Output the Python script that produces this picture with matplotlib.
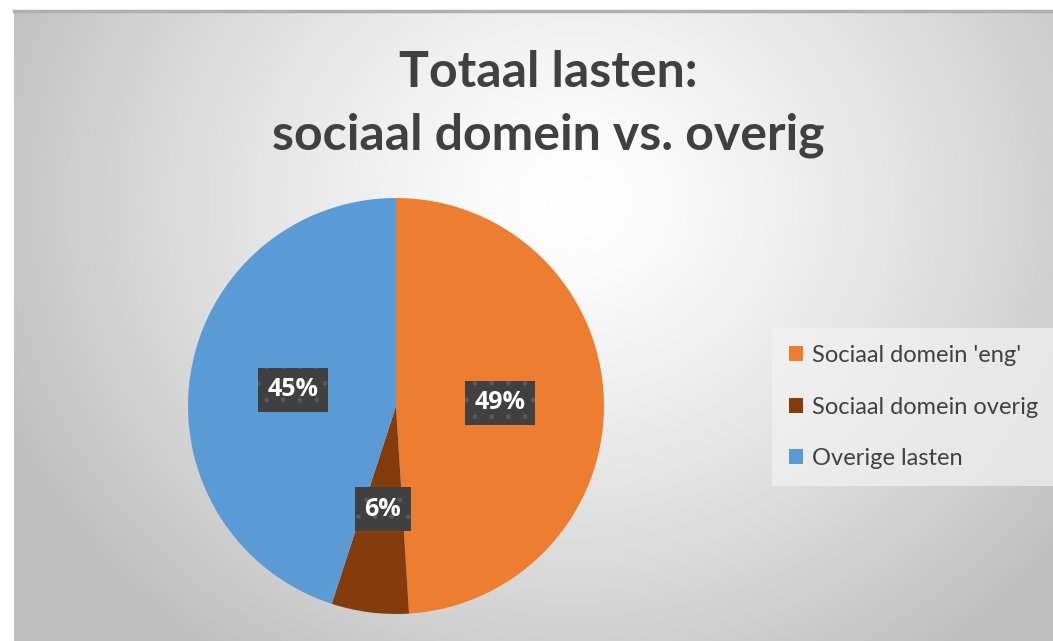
import numpy as np
import matplotlib.pyplot as plt
from matplotlib.patches import Patch

# data
labels = ["Sociaal domein 'eng'", "Sociaal domein overig", "Overige lasten"]
shares = [49, 6, 45]
colors = ['#ed7d31', '#843c0c', '#5b9bd5']

W, H = 1053, 641
fig = plt.figure(figsize=(W / 100, H / 100), dpi=100)
fig.patch.set_facecolor('white')

# radial gradient background of the chart area
bg = fig.add_axes([14 / W, 0, 1 - 14 / W, (H - 11) / H], zorder=-5)
yy, xx = np.mgrid[0:H - 11, 0:W - 14]
d = np.hypot((xx - 560) / 1.0, (yy - 190) / 0.9)
g = 1.0 - 0.25 * np.clip(d / 620, 0, 1) ** 1.3
bg.imshow(np.dstack([g, g, g]), aspect='auto', extent=[0, 1, 0, 1], origin='upper')
bg.set_axis_off()
fig.add_artist(plt.Line2D([14 / W, 1], [(H - 11) / H] * 2, color='#b0b0b0', lw=2.5))

# pie
ax = fig.add_axes([188 / W, 27 / H, 416 / W, 416 / H])
wedges, _, autotexts = ax.pie(shares, colors=colors, startangle=90, counterclock=False,
                              autopct='%d%%', pctdistance=0.5, radius=1.0,
                              wedgeprops=dict(linewidth=0))
for t in autotexts:
    t.set_color('white')
    t.set_fontsize(18)
    t.set_fontweight('bold')
    t.set_family(['Open Sans', 'DejaVu Sans'])
    t.set_bbox(dict(boxstyle='square,pad=0.38', fc='#404040', ec='#5a5a5a', lw=0, hatch='.'))
ax.set_xlim(-1, 1)
ax.set_ylim(-1, 1)
ax.set_aspect('equal')

fig.text(548 / W, 1 - 104 / H, 'Totaal lasten:\nsociaal domein vs. overig', ha='center', va='center',
         fontsize=36, fontweight='bold', color='#404040', family=['Lato', 'DejaVu Sans'],
         linespacing=1.45)

handles = [Patch(facecolor=c, edgecolor='none') for c in colors]
leg = fig.legend(handles, labels, loc='center left', bbox_to_anchor=(772 / W, 1 - 407 / H),
                 frameon=True, fancybox=False, labelspacing=1.3, borderaxespad=0,
                 handlelength=0.6, handleheight=0.6, handletextpad=0.4, borderpad=0.7,
                 prop={'family': ['Lato', 'DejaVu Sans'], 'size': 17})
leg.get_frame().set_facecolor('#f2f2f2')
leg.get_frame().set_edgecolor('none')
leg.get_frame().set_alpha(0.7)
for t in leg.get_texts():
    t.set_color('#404040')

fig.savefig('out.png', dpi=100)
